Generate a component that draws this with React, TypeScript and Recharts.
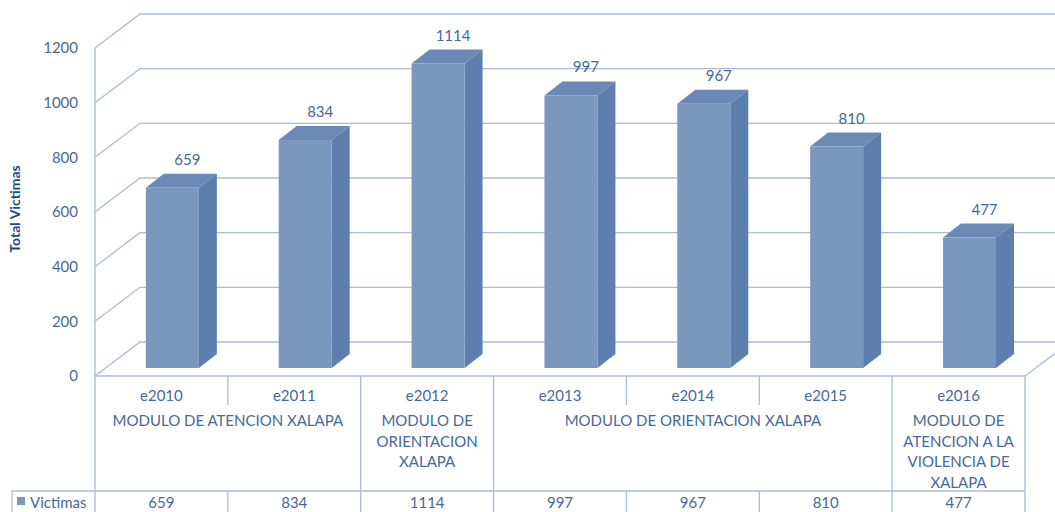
import { BarChart, Bar, XAxis, YAxis, CartesianGrid } from 'recharts';

const categories = ['e2010', 'e2011', 'e2012', 'e2013', 'e2014', 'e2015', 'e2016'];
const victimas = [659, 834, 1114, 997, 967, 810, 477];
const groupLabels = [
  ['MODULO DE ATENCION XALAPA'],
  ['MODULO DE', 'ORIENTACION', 'XALAPA'],
  ['MODULO DE ORIENTACION XALAPA'],
  ['MODULO DE', 'ATENCION A LA', 'VIOLENCIA DE', 'XALAPA'],
];
const groupSpans = [2, 1, 3, 1];
const yTicks = [0, 200, 400, 600, 800, 1000, 1200];
const seriesName = 'Victimas';
const yTitle = 'Total Victimas';

const data = categories.map((name, i) => ({ name, value: victimas[i] }));

// first index of each group
const groupStarts = groupSpans.map((_, g) => groupSpans.slice(0, g).reduce((a, b) => a + b, 0));

const W = 1055;
const H = 512;
const LINE = '#A9BDD8';
const TEXT = '#46699C';
const FRONT = '#7B97BD';
const SIDE = '#5C7FAD';
const TOP = '#6A89B4';

// 3d offsets (px)
const WALL_DX = 45;
const WALL_DY = 34;
const SHIFT_X = 11;
const SHIFT_Y = 8;
const BAR_DX = 18;
const BAR_DY = 14;

const gridLine = (p: any) => (
  <polyline
    key={`grid-${p.index}-${p.y1}`}
    points={`${p.x1},${p.y1} ${p.x1 + WALL_DX},${p.y1 - WALL_DY} ${W},${p.y1 - WALL_DY}`}
    fill="none"
    stroke={LINE}
    strokeWidth={1.3}
  />
);

const Bar3D = (props: any) => {
  const { x, y, width, height } = props;
  if (height == null || height <= 0) return null;
  const fx = x + SHIFT_X;
  const fy = y - SHIFT_Y;
  const fb = fy + height;
  const r = fx + width;
  return (
    <g>
      <polygon
        points={`${r},${fy} ${r + BAR_DX},${fy - BAR_DY} ${r + BAR_DX},${fb - BAR_DY} ${r},${fb}`}
        fill={SIDE}
      />
      <polygon
        points={`${fx},${fy} ${fx + BAR_DX},${fy - BAR_DY} ${r + BAR_DX},${fy - BAR_DY} ${r},${fy}`}
        fill={TOP}
      />
      <rect x={fx} y={fy} width={width} height={height} fill={FRONT} />
    </g>
  );
};

const renderValue = (props: any) => {
  const { x, y, width, value } = props;
  return (
    <text x={x + width / 2 + 26} y={y - 31} textAnchor="middle" fill={TEXT} fontSize={15}>
      {value}
    </text>
  );
};

const TableTick = (props: any) => {
  const { x, y, index, payload } = props;
  const band = (props.width || 930) / categories.length;
  const left = x - band / 2;
  const right = x + band / 2;
  const rowY = y + 115;
  const g = groupStarts.findIndex((s, k) => index >= s && index < s + groupSpans[k]);
  const isGroupEnd = index === groupStarts[g] + groupSpans[g] - 1;
  const isGroupStart = index === groupStarts[g];
  const groupCenter = left + (groupSpans[g] * band) / 2;
  return (
    <g>
      <text x={x} y={y + 25} textAnchor="middle" fill={TEXT} fontSize={15}>
        {payload.value}
      </text>
      {isGroupStart &&
        groupLabels[g].map((line, k) => (
          <text key={k} x={groupCenter} y={y + 50 + k * 20.5} textAnchor="middle" fill={TEXT} fontSize={15}>
            {line}
          </text>
        ))}
      <line
        x1={right}
        y1={y}
        x2={right}
        y2={isGroupEnd ? H : y + 29}
        stroke={LINE}
        strokeWidth={1.3}
      />
      {!isGroupEnd && <line x1={right} y1={rowY} x2={right} y2={H} stroke={LINE} strokeWidth={1.3} />}
      <line x1={left} y1={rowY} x2={right} y2={rowY} stroke={LINE} strokeWidth={1.3} />
      <text x={x} y={rowY + 17} textAnchor="middle" fill={TEXT} fontSize={15}>
        {victimas[index]}
      </text>
      {index === 0 && (
        <g>
          <line x1={left} y1={y} x2={left} y2={H} stroke={LINE} strokeWidth={1.3} />
          <line x1={12} y1={rowY} x2={left} y2={rowY} stroke={LINE} strokeWidth={1.3} />
          <line x1={12} y1={rowY} x2={12} y2={H} stroke={LINE} strokeWidth={1.3} />
          <rect x={17} y={rowY + 6} width={8} height={8} fill={FRONT} />
          <text x={30} y={rowY + 17} fill={TEXT} fontSize={15}>
            {seriesName}
          </text>
        </g>
      )}
      {index === categories.length - 1 && (
        <line
          x1={right}
          y1={y}
          x2={right + WALL_DX}
          y2={y - WALL_DY}
          stroke={LINE}
          strokeWidth={1.3}
        />
      )}
    </g>
  );
};

const YTitle = (props: any) => {
  const vb = props.viewBox || { y: 48, height: 328 };
  const cy = vb.y + vb.height / 2 - 3;
  return (
    <text
      x={14}
      y={cy}
      transform={`rotate(-90 14 ${cy})`}
      textAnchor="middle"
      dominantBaseline="central"
      fill="#1F4A80"
      fontSize={14}
      fontWeight="bold"
    >
      {yTitle}
    </text>
  );
};

export default function App() {
  return (
    <div
      style={{
        position: 'absolute',
        left: 0,
        top: 0,
        width: W,
        height: H,
        background: '#fff',
        fontFamily: 'Lato, Calibri, "Open Sans", sans-serif',
        overflow: 'hidden',
      }}
    >
      <BarChart
        width={W}
        height={H}
        data={data}
        margin={{ top: 48, right: 30, bottom: 0, left: 0 }}
        barCategoryGap="30%"
      >
        <CartesianGrid horizontal={gridLine} vertical={false} />
        <XAxis
          dataKey="name"
          height={136}
          tickSize={0}
          tickMargin={0}
          tickLine={false}
          axisLine={{ stroke: LINE, strokeWidth: 1.3 }}
          tick={<TableTick />}
          interval={0}
        />
        <YAxis
          width={95}
          domain={[0, 1200]}
          ticks={yTicks}
          tickSize={0}
          tickMargin={17}
          tickLine={false}
          axisLine={{ stroke: LINE, strokeWidth: 1.3 }}
          tick={{ fill: TEXT, fontSize: 15 }}
          label={<YTitle />}
        />
        <Bar
          dataKey="value"
          name={seriesName}
          shape={<Bar3D />}
          label={renderValue}
          isAnimationActive={false}
        />
      </BarChart>
    </div>
  );
}
